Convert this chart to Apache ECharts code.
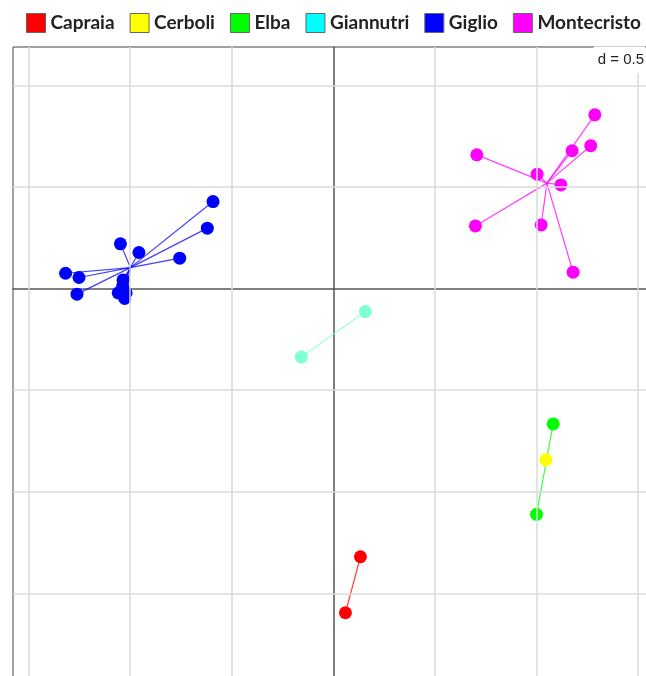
<!DOCTYPE html>
<html>
<head>
<meta charset="utf-8">
<script src="https://cdn.jsdelivr.net/npm/echarts@6/dist/echarts.min.js"></script>
<style>
  html, body { margin: 0; padding: 0; background: #fff; }
  #chart { width: 646px; height: 676px; }
</style>
</head>
<body>
<div id="chart"></div>
<script>
// Group names, in legend order
const groups = ['Capraia', 'Cerboli', 'Elba', 'Giannutri', 'Giglio', 'Montecristo'];

// Site scores on the first two axes, per island
const capraia = [[0.134, -1.320], [0.060, -1.596]];
const cerboli = [[1.047, -0.843]];
const elba = [[1.083, -0.666], [1.001, -1.111]];
const giannutri = [[0.158, -0.113], [-0.157, -0.337]];
const giglio = [
  [-0.592, 0.429], [-0.620, 0.298], [-0.756, 0.150], [-0.957, 0.178],
  [-1.048, 0.221], [-1.318, 0.076], [-1.252, 0.055], [-1.262, -0.027],
  [-1.035, 0.043], [-1.037, 0.014], [-1.059, -0.021], [-1.020, -0.021],
  [-1.027, -0.048]
];
const montecristo = [
  [1.288, 0.856], [1.176, 0.679], [1.268, 0.704], [0.707, 0.659],
  [1.004, 0.564], [1.121, 0.511], [0.700, 0.309], [1.024, 0.314],
  [1.181, 0.081]
];
const groupPoints = [capraia, cerboli, elba, giannutri, giglio, montecristo];

// Colours: point fill and legend swatch
const pointColors = ['#ff0000', '#ffff00', '#00ff00', '#7fffd4', '#0000ff', '#ff00ff'];
const legendColors = ['#ff0000', '#ffff00', '#00ff00', '#00ffff', '#0000ff', '#ff00ff'];

// Grid spacing of the plot (d)
const gridStep = 0.5;
const xGridValues = [-1.5, -1, -0.5, 0.5, 1, 1.5];
const yGridValues = [1, 0.5, -0.5, -1, -1.5, -2];

function centroid(pts) {
  let sx = 0, sy = 0;
  pts.forEach(p => { sx += p[0]; sy += p[1]; });
  return [sx / pts.length, sy / pts.length];
}

const series = [];

// light grid drawn behind everything
series.push({
  type: 'scatter',
  name: '_grid',
  data: [],
  silent: true,
  z: 0,
  markLine: {
    silent: true,
    symbol: ['none', 'none'],
    animation: false,
    label: { show: false },
    lineStyle: { color: '#dadada', width: 1.5, type: 'solid' },
    data: xGridValues.map(v => ({ xAxis: v })).concat(yGridValues.map(v => ({ yAxis: v })))
  }
});

// star segments: each site joined to its group mean
groups.forEach((g, i) => {
  const pts = groupPoints[i];
  if (pts.length < 2) return;
  const c = centroid(pts);
  series.push({
    type: 'lines',
    name: g + ' links',
    coordinateSystem: 'cartesian2d',
    silent: true,
    z: 2,
    lineStyle: { color: pointColors[i], width: 1.2, opacity: 0.75 },
    data: pts.map(p => ({ coords: [p, c] }))
  });
});

// site points
groups.forEach((g, i) => {
  series.push({
    type: 'scatter',
    name: g,
    z: 3,
    symbol: 'circle',
    symbolSize: 13,
    itemStyle: { color: pointColors[i], opacity: 1 },
    data: groupPoints[i]
  });
});

const chart = echarts.init(document.getElementById('chart'), null, { renderer: 'canvas' });
chart.setOption({
  animation: false,
  backgroundColor: '#ffffff',
  legend: {
    left: 26,
    top: 13,
    width: 620,
    padding: 0,
    itemWidth: 19,
    itemHeight: 19,
    itemGap: 15,
    icon: 'rect',
    selectedMode: false,
    itemStyle: { borderColor: '#666', borderWidth: 1 },
    textStyle: { fontFamily: 'Lato', fontWeight: 'bold', fontSize: 19, color: '#222' },
    data: groups.map((g, i) => ({ name: g, itemStyle: { color: legendColors[i] } }))
  },
  grid: {
    show: true,
    left: 13,
    top: 47,
    width: 660,
    height: 660,
    outerBoundsMode: 'none',
    containLabel: false,
    borderColor: '#444',
    borderWidth: 1,
    backgroundColor: 'transparent'
  },
  xAxis: {
    type: 'value',
    min: -1.577,
    max: 1.673,
    axisLine: { show: true, onZero: true, lineStyle: { color: '#555', width: 1.5 } },
    axisTick: { show: false },
    axisLabel: { show: false },
    splitLine: { show: false }
  },
  yAxis: {
    type: 'value',
    min: -2.06,
    max: 1.19,
    axisLine: { show: true, onZero: true, lineStyle: { color: '#555', width: 1.5 } },
    axisTick: { show: false },
    axisLabel: { show: false },
    splitLine: { show: false }
  },
  graphic: [{
    type: 'text',
    z: 100,
    style: {
      text: 'd = ' + gridStep,
      x: 645,
      y: 60,
      align: 'right',
      verticalAlign: 'middle',
      font: '15px "Liberation Sans", Arial, sans-serif',
      fill: '#222',
      backgroundColor: '#ffffff',
      padding: [6, 1, 6, 4]
    }
  }],
  series: series
});
</script>
</body>
</html>
